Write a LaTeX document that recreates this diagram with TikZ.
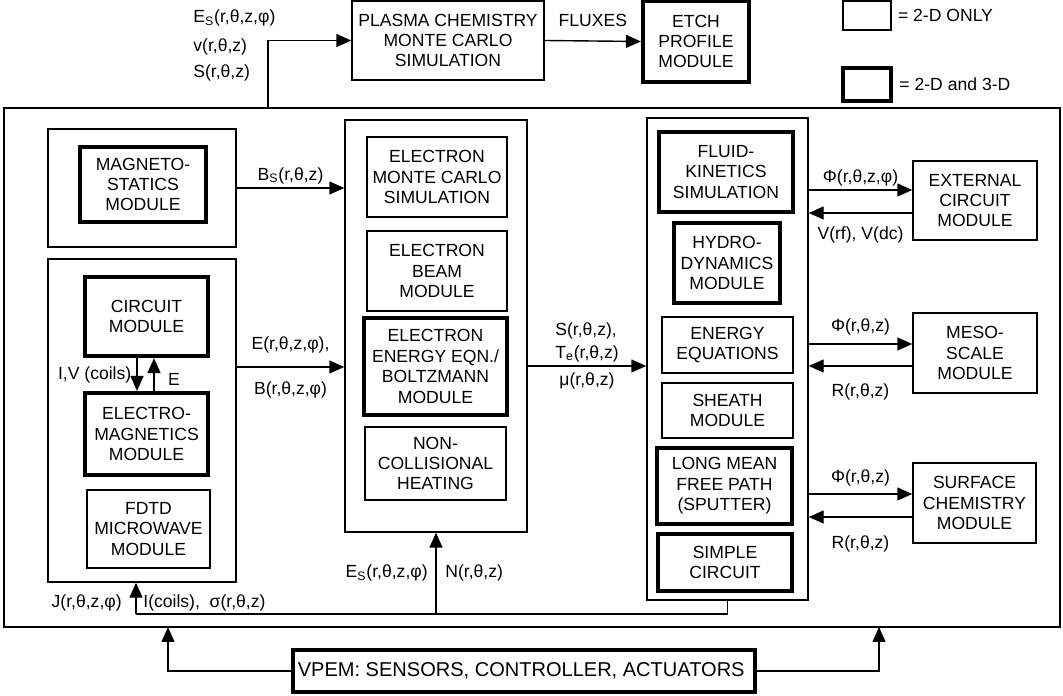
\documentclass[tikz,border=0pt]{standalone}
\usepackage{fontspec}
\setmainfont{Liberation Sans}
\usetikzlibrary{arrows.meta,positioning,calc}

\begin{document}
\begin{tikzpicture}[
					thin_box/.style={
							rectangle,
							draw=black,
							line width=0.8pt,
							inner sep=0pt,
							align=center,
							font=\fontsize{10}{11.6}\selectfont
						},
					thick_box/.style={
							thin_box,
							line width=2.4pt
						},
					group_box/.style={
							rectangle,
							draw=black,
							line width=0.8pt,
							inner sep=0pt
						},
					edge_label/.style={
							font=\fontsize{10}{11.6}\selectfont,
							inner sep=2pt
						},
					link/.style={line width=0.8pt},
					>={Triangle[length=0.3cm,width=0.26cm]}
				]
				\useasboundingbox (0,0) rectangle (21.26,-13.92);

				\node[thin_box, minimum width=3.84cm, minimum height=1.58cm] (plasma) at (8.96,-0.81) {
					PLASMA CHEMISTRY\\MONTE CARLO\\SIMULATION
				};
				\node[thick_box, minimum width=2.12cm, minimum height=1.62cm] (etch) at (13.92,-0.83) {
					ETCH\\PROFILE\\MODULE
				};
				\node[thin_box, minimum width=0.96cm, minimum height=0.58cm] (key2d) at (17.34,-0.31) {};
				\node[thick_box, minimum width=0.96cm, minimum height=0.66cm] (key3d) at (17.34,-1.69) {};
				\node[edge_label, right=0.05cm of key2d] (key2dText) {= 2-D ONLY};
				\node[edge_label, right=0.05cm of key3d] (key3dText) {= 2-D and 3-D};

				\node[group_box, minimum width=21.12cm, minimum height=10.38cm] (plant) at (10.64,-7.35) {};

				\node[group_box, minimum width=3.76cm, minimum height=2.36cm] (magGrp) at (2.84,-3.76) {};
				\node[thick_box, minimum width=2.52cm, minimum height=1.5cm] (magneto) at (2.86,-3.69) {
					MAGNETO-\\STATICS\\MODULE
				};
				\node[group_box, minimum width=3.76cm, minimum height=6.46cm] (emGrp) at (2.84,-8.41) {};
				\node[thick_box, minimum width=2.46cm, minimum height=1.58cm] (circuit) at (2.93,-6.33) {
					CIRCUIT\\MODULE
				};
				\node[thick_box, minimum width=2.46cm, minimum height=1.64cm] (emag) at (2.93,-8.68) {
					ELECTRO-\\MAGNETICS\\MODULE
				};
				\node[thin_box, minimum width=2.46cm, minimum height=1.56cm] (fdtd) at (2.97,-10.58) {
					FDTD\\MICROWAVE\\MODULE
				};

				\node[group_box, minimum width=3.64cm, minimum height=8.24cm] (cc) at (8.72,-6.52) {};
				\node[thin_box, minimum width=2.8cm, minimum height=1.6cm] (emc) at (8.74,-3.54) {
					ELECTRON\\MONTE CARLO\\SIMULATION
				};
				\node[thin_box, minimum width=2.8cm, minimum height=1.6cm] (ebeam) at (8.74,-5.42) {
					ELECTRON\\BEAM\\MODULE
				};
				\node[thick_box, minimum width=2.86cm, minimum height=1.94cm] (eeqn) at (8.71,-7.33) {
					ELECTRON\\ENERGY EQN./\\BOLTZMANN\\MODULE
				};
				\node[thin_box, minimum width=2.82cm, minimum height=1.46cm] (noncoll) at (8.71,-9.27) {
					NON-\\COLLISIONAL\\HEATING
				};

				\node[group_box, minimum width=3.22cm, minimum height=9.64cm] (rc) at (14.55,-7.18) {};
				\node[thick_box, minimum width=2.68cm, minimum height=1.6cm] (fluid) at (14.52,-3.44) {
					FLUID-\\KINETICS\\SIMULATION
				};
				\node[thick_box, minimum width=2.12cm, minimum height=1.6cm] (hydro) at (14.54,-5.26) {
					HYDRO-\\DYNAMICS\\MODULE
				};
				\node[thin_box, minimum width=2.62cm, minimum height=1.12cm] (energy) at (14.55,-6.9) {
					ENERGY\\EQUATIONS
				};
				\node[thin_box, minimum width=2.62cm, minimum height=1.1cm] (sheath) at (14.55,-8.21) {
					SHEATH\\MODULE
				};
				\node[thick_box, minimum width=2.7cm, minimum height=1.52cm] (lmfp) at (14.49,-9.72) {
					LONG MEAN\\FREE PATH\\(SPUTTER)
				};
				\node[thick_box, minimum width=2.68cm, minimum height=1.14cm] (simple) at (14.5,-11.25) {
					SIMPLE\\CIRCUIT
				};

				\node[thin_box, minimum width=2.48cm, minimum height=1.58cm] (extckt) at (19.5,-4.01) {
					EXTERNAL\\CIRCUIT\\MODULE
				};
				\node[thin_box, minimum width=2.48cm, minimum height=1.6cm] (meso) at (19.5,-7.06) {
					MESO-\\SCALE\\MODULE
				};
				\node[thin_box, minimum width=2.46cm, minimum height=1.6cm] (surf) at (19.49,-10.06) {
					SURFACE\\CHEMISTRY\\MODULE
				};

				\node[thick_box, minimum width=9.24cm, minimum height=0.84cm, font=\fontsize{11.4}{13}\selectfont] (vpem) at (10.48,-13.42) {
					VPEM: SENSORS, CONTROLLER, ACTUATORS
				};

				\coordinate (tap) at (5.36,-2.16);
				\draw[->, link] (tap) |- (plasma.west);
				\node[edge_label, anchor=west] (esTop) at (3.79,-0.36) {E\textsubscript{S}(r,θ,z,φ)};
				\node[edge_label, anchor=west] (vTop) at (3.79,-0.94) {v(r,θ,z)};
				\node[edge_label, anchor=west] (sTop) at (3.79,-1.46) {S(r,θ,z)};
				\draw[->, link] (plasma.east) -- (etch.west)
				node[edge_label, above=0.2cm, midway] {FLUXES};

				\draw[->, link] (magGrp.east) -- (magGrp.east -| cc.west)
				node[edge_label, above, midway] {B\textsubscript{S}(r,θ,z)};
				\coordinate (emOut) at ([yshift=1.07cm]emGrp.east);
				\draw[->, link] (emOut) -- (emOut -| cc.west)
				node[edge_label, above=0.19cm, midway] {E(r,θ,z,φ),}
				node[edge_label, below=0.22cm, midway] {B(r,θ,z,φ)};
				\draw[->, link] ([xshift=-0.19cm]circuit.south) -- ([xshift=-0.19cm]emag.north)
				node[edge_label, left=0.03cm, midway] {I,V (coils)};
				\draw[->, link] ([xshift=0.15cm]emag.north) -- ([xshift=0.15cm]circuit.south)
				node[edge_label, right=0.2cm, pos=0.35] {E};

				\coordinate (ccOut) at ([yshift=-0.8cm]cc.east);
				\draw[->, link] (ccOut) -- (ccOut -| rc.west)
				node[edge_label, above, midway, align=left] {S(r,θ,z),\\[1.4pt]T\textsubscript{e}(r,θ,z)}
				node[edge_label, below=0.05cm, midway] {μ(r,θ,z)};

				\coordinate (extIn) at ([yshift=0.21cm]extckt.west);
				\coordinate (extOut) at ([yshift=-0.25cm]extckt.west);
				\draw[->, link] (extIn -| rc.east) -- (extIn)
				node[edge_label, above, midway] {Φ(r,θ,z,φ)};
				\draw[->, link] (extOut) -- (extOut -| rc.east)
				node[edge_label, below=0.2cm, midway] {V(rf), V(dc)};

				\coordinate (mesoIn) at ([yshift=0.18cm]meso.west);
				\coordinate (mesoOut) at ([yshift=-0.26cm]meso.west);
				\draw[->, link] (mesoIn -| rc.east) -- (mesoIn)
				node[edge_label, above=0.09cm, midway] {Φ(r,θ,z)};
				\draw[->, link] (mesoOut) -- (mesoOut -| rc.east)
				node[edge_label, below=0.27cm, midway] {R(r,θ,z)};

				\coordinate (surfIn) at ([yshift=0.18cm]surf.west);
				\coordinate (surfOut) at ([yshift=-0.28cm]surf.west);
				\draw[->, link] (surfIn -| rc.east) -- (surfIn)
				node[edge_label, above=0.07cm, midway] {Φ(r,θ,z)};
				\draw[->, link] (surfOut) -- (surfOut -| rc.east)
				node[edge_label, below=0.3cm, midway] {R(r,θ,z)};

				\coordinate (busL) at (2.72,-12.28);
				\draw[link] (rc.south) |- (busL);
				\draw[->, link] (busL) -- (busL |- emGrp.south);
				\draw[->, link] (cc.south |- busL) -- (cc.south);
				\node[edge_label, anchor=east] (jLab) at (2.51,-12.06) {J(r,θ,z,φ)};
				\node[edge_label, anchor=west] (iLab) at (2.79,-12.06) {I(coils),\ \ σ(r,θ,z)};
				\node[edge_label, anchor=east] (esLab) at (8.63,-11.46) {E\textsubscript{S}(r,θ,z,φ)};
				\node[edge_label, anchor=west] (nLab) at (8.83,-11.46) {N(r,θ,z)};

				\coordinate (vpemL) at (3.36,-12.54);
				\coordinate (vpemR) at (17.58,-12.54);
				\draw[->, link] (vpem.west) -| (vpemL);
				\draw[->, link] (vpem.east) -| (vpemR);
		\end{tikzpicture}
\end{document}
